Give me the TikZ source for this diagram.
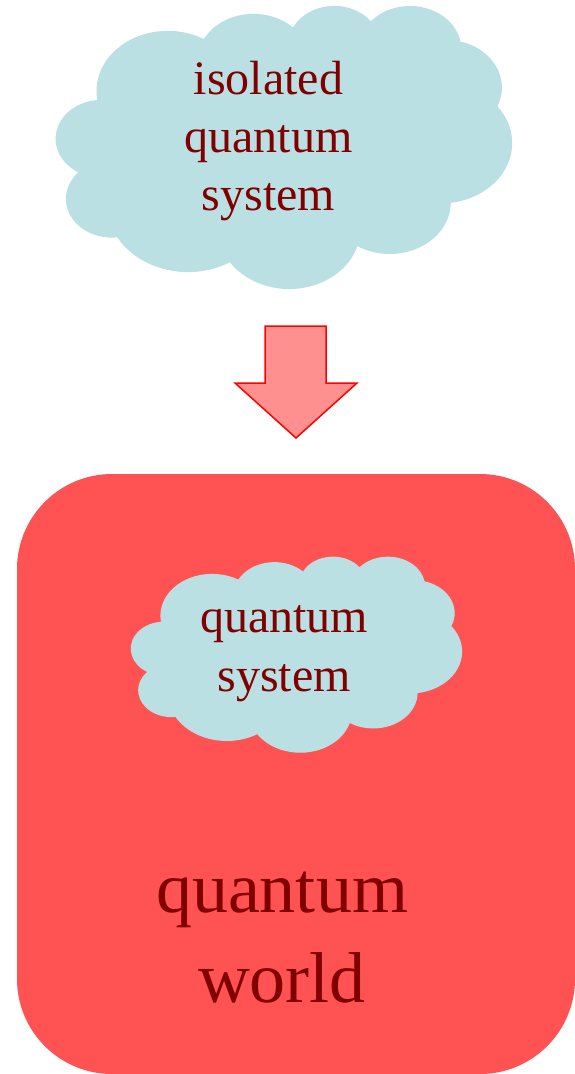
\documentclass[tikz,border=0pt]{standalone}
\usepackage{fontspec}
\setmainfont{Liberation Serif}
\definecolor{cloudblue}{RGB}{186,224,228}
\definecolor{textred}{RGB}{128,0,0}
\definecolor{worldred}{RGB}{255,82,82}
\definecolor{arrowpink}{RGB}{255,144,144}
% angle on an ellipse, from the angle seen from its centre
\pgfmathdeclarefunction{parang}{3}{\pgfmathparse{atan2(#1*sin(#3),#2*cos(#3))}}
\pgfmathdeclarefunction{parsweep}{4}{%
  \pgfmathsetmacro\tmpd{parang(#1,#2,#3+#4)-parang(#1,#2,#3)}%
  \pgfmathparse{\tmpd-360*round((\tmpd-#4)/360)}}
\tikzset{
  puffcloud/.pic={
    \fill[cloudblue] (9.028,33.264)
      \foreach \rx/\ry/\st/\sw in {15.632/21.273/-190.4875/123.7805, 12.345/16.822/-144.1024/89.9452,
        10.104/13.762/-145.8079/99.7230, 11.243/15.266/-130.9861/117.2417, 12.345/16.836/-78.7089/109.0269,
        15.683/21.343/-46.2673/130.2690, 13.391/18.211/0.6250/114.0333, 15.630/21.331/22.4516/115.1726,
        17.870/24.405/66.2426/75.7110, 10.093/13.699/-274.9421/146.7356, 10.058/13.762/-246.8285/152.5189}
      {arc[start angle={parang(\rx,\ry,\st)},delta angle={parsweep(\rx,\ry,\st,\sw)},x radius=\rx,y radius=\ry]}
      -- cycle;
  }}
\begin{document}
\begin{tikzpicture}[x=1pt,y=1pt,yscale=-1,
  lbl/.style={text=textred,align=center,inner sep=0pt}]
\useasboundingbox (0,0) rectangle (575,1074);
% quantum world box
\fill[worldred,rounded corners=95pt] (17,474) rectangle (575,1074);
\node[lbl,font=\fontsize{72}{90}\selectfont] (world) at (282,937.5) {quantum\\world};
% clouds
\pic[xscale=4.56,yscale=-2.83] (isocloud) at (56,5) {puffcloud};
\node[lbl,font=\fontsize{48}{58}\selectfont] (isotext) at (268.5,141) {isolated\\quantum\\system};
\pic[xscale=3.31,yscale=-1.96] (syscloud) at (131,556) {puffcloud};
\node[lbl,font=\fontsize{48}{59}\selectfont] (systext) at (284,653.7) {quantum\\system};
% arrow
\filldraw[draw=red,fill=arrowpink,line width=1.5pt] (265,326) -- (326,326) -- (326,383) -- (357,383) -- (296,438) -- (235,383) -- (265,383) -- cycle;
\end{tikzpicture}
\end{document}
